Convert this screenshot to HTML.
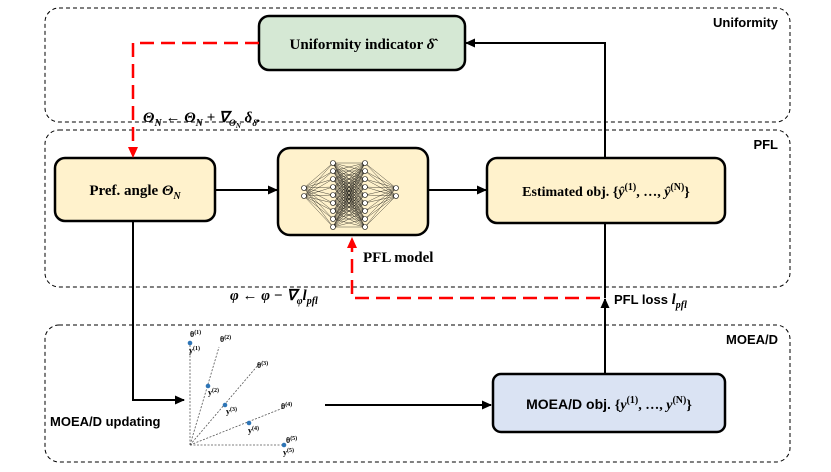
<!DOCTYPE html>
<html><head><style>
body{margin:0;background:#fff;}
svg text{font-family:"Liberation Serif",serif;}
.s{font-family:"Liberation Sans",sans-serif;}
</style></head><body>
<svg width="831" height="467" viewBox="0 0 831 467" xmlns="http://www.w3.org/2000/svg">
<defs>
<marker id="a" markerWidth="10" markerHeight="10" refX="9" refY="5" orient="auto" markerUnits="userSpaceOnUse"><path d="M0,0.5 L10,5 L0,9.5 z" fill="#000"/></marker>
</defs>
<g fill="none" stroke="#000" stroke-width="1" stroke-dasharray="4,3">
<rect x="45" y="8" width="745" height="114" rx="14"/>
<rect x="45" y="130" width="745" height="157" rx="14"/>
<rect x="45" y="325" width="745" height="137" rx="14"/>
</g>
<text x="778" y="27" class="s" font-size="13" font-weight="bold" text-anchor="end">Uniformity</text>
<text x="778" y="149" class="s" font-size="13" font-weight="bold" text-anchor="end">PFL</text>
<text x="778" y="344" class="s" font-size="13" font-weight="bold" text-anchor="end">MOEA/D</text>

<rect x="259" y="16" width="206" height="54" rx="10" fill="#d5e8d4" stroke="#000" stroke-width="2.5"/>
<text x="362" y="49" font-size="15" font-weight="bold" text-anchor="middle">Uniformity indicator <tspan font-style="italic">δ̂</tspan></text>
<rect x="55" y="158" width="160" height="63" rx="10" fill="#fff2cc" stroke="#000" stroke-width="2.5"/>
<text x="135" y="195" font-size="15" font-weight="bold" text-anchor="middle">Pref. angle <tspan font-style="italic">Θ<tspan font-size="10" dy="4">N</tspan></tspan></text>
<rect x="278" y="148" width="150" height="87" rx="12" fill="#fff2cc" stroke="#000" stroke-width="2.5"/>
<g id="nn" stroke="#000" stroke-width="0.35"></g>
<g id="nodes" fill="#fff" stroke="#000" stroke-width="0.6"></g>
<script>
(function(){
var ns="http://www.w3.org/2000/svg",g=document.getElementById("nn"),n=document.getElementById("nodes");
var L=[[304,[188,196]],[333,[]],[365,[]],[396,[188,196]]];
for(var i=0;i<9;i++){L[1][1].push(163+i*8);L[2][1].push(163+i*8);}
for(var k=0;k<3;k++){var A=L[k],B=L[k+1];A[1].forEach(function(y1){B[1].forEach(function(y2){var l=document.createElementNS(ns,"line");l.setAttribute("x1",A[0]);l.setAttribute("y1",y1);l.setAttribute("x2",B[0]);l.setAttribute("y2",y2);g.appendChild(l);});});}
L.forEach(function(c){c[1].forEach(function(y){var e=document.createElementNS(ns,"circle");e.setAttribute("cx",c[0]);e.setAttribute("cy",y);e.setAttribute("r",2.5);n.appendChild(e);});});
})();
</script>
<rect x="487" y="158" width="238" height="65" rx="10" fill="#fff2cc" stroke="#000" stroke-width="2.5"/>
<text x="606" y="196" font-size="14" font-weight="bold" text-anchor="middle">Estimated obj. {<tspan font-style="italic">ŷ</tspan><tspan font-size="10" dy="-6">(1)</tspan><tspan dy="6">, …, </tspan><tspan font-style="italic">ŷ</tspan><tspan font-size="10" dy="-6">(N)</tspan><tspan dy="6">}</tspan></text>
<rect x="493" y="374" width="232" height="58" rx="8" fill="#dae3f3" stroke="#000" stroke-width="2.5"/>
<text x="609" y="409" class="s" font-size="14" font-weight="bold" text-anchor="middle">MOEA/D obj. <tspan font-family="Liberation Serif">{<tspan font-style="italic">y</tspan><tspan font-size="10" dy="-6">(1)</tspan><tspan dy="6">, …, </tspan><tspan font-style="italic">y</tspan><tspan font-size="10" dy="-6">(N)</tspan><tspan dy="6">}</tspan></tspan></text>

<g stroke="#000" stroke-width="2" fill="none">
<line x1="215" y1="190" x2="277" y2="190" marker-end="url(#a)"/>
<line x1="428" y1="190" x2="486" y2="190" marker-end="url(#a)"/>
<polyline points="605,158 605,43 466,43" marker-end="url(#a)"/>
<line x1="605" y1="223" x2="605" y2="298"/>
<line x1="605" y1="374" x2="605" y2="299" marker-end="url(#a)"/>
<polyline points="133,221 133,400 184,400" marker-end="url(#a)"/>
<line x1="325" y1="405" x2="491" y2="405" marker-end="url(#a)"/>
</g>
<g stroke="#f00" stroke-width="2.5" fill="none" stroke-dasharray="14,7">
<polyline points="259,43 133,43 133,148"/>
<polyline points="600,298 352,298 352,247"/>
</g>
<path d="M128,147 L133,158 L138,147 z" fill="#f00"/>
<path d="M347,248 L352,237 L357,248 z" fill="#f00"/>

<text x="143" y="122" font-size="15" font-weight="bold" font-style="italic">Θ<tspan font-size="10" dy="4">N</tspan><tspan dy="-4"> ← Θ</tspan><tspan font-size="10" dy="4">N</tspan><tspan dy="-4"> + ∇</tspan><tspan font-size="9" dy="4">Θ</tspan><tspan font-size="7" dy="2">N</tspan><tspan dy="-6"> δ</tspan><tspan font-size="9" dy="4">δ̂</tspan><tspan dy="-4">.</tspan></text>
<text x="363" y="262" font-size="15" font-weight="bold">PFL model</text>
<text x="230" y="300" font-size="15" font-weight="bold" font-style="italic">φ ← φ − ∇<tspan font-size="10" dy="4">φ</tspan><tspan dy="-4">l</tspan><tspan font-size="10" dy="4">pfl</tspan></text>
<text x="614" y="304" class="s" font-size="13" font-weight="bold">PFL loss <tspan font-family="Liberation Serif" font-style="italic" font-size="15">l<tspan font-size="10" dy="4">pfl</tspan></tspan></text>
<text x="50" y="426" class="s" font-size="13" font-weight="bold">MOEA/D updating</text>

<g stroke="#555" stroke-width="0.8" stroke-dasharray="2,1.5" fill="none">
<line x1="190" y1="445" x2="190" y2="343"/>
<line x1="190" y1="445" x2="219" y2="347"/>
<line x1="190" y1="445" x2="259" y2="364"/>
<line x1="190" y1="445" x2="283" y2="408"/>
<line x1="190" y1="445" x2="284" y2="445"/>
</g>
<g fill="#2e75b6">
<circle cx="190" cy="343" r="2.3"/><circle cx="208" cy="386" r="2.3"/><circle cx="225" cy="405" r="2.3"/><circle cx="249" cy="423" r="2.3"/><circle cx="284" cy="445" r="2.3"/>
</g>
<g class="s" font-size="8" font-weight="bold">
<text x="190" y="337">θ<tspan font-size="6" dy="-3">(1)</tspan></text><text x="189" y="353">y<tspan font-size="6" dy="-3">(1)</tspan></text>
<text x="220" y="342">θ<tspan font-size="6" dy="-3">(2)</tspan></text><text x="208" y="395">y<tspan font-size="6" dy="-3">(2)</tspan></text>
<text x="257" y="368">θ<tspan font-size="6" dy="-3">(3)</tspan></text><text x="226" y="414">y<tspan font-size="6" dy="-3">(3)</tspan></text>
<text x="281" y="409">θ<tspan font-size="6" dy="-3">(4)</tspan></text><text x="248" y="433">y<tspan font-size="6" dy="-3">(4)</tspan></text>
<text x="286" y="443">θ<tspan font-size="6" dy="-3">(5)</tspan></text><text x="283" y="455">y<tspan font-size="6" dy="-3">(5)</tspan></text>
</g>
</svg>
</body></html>
